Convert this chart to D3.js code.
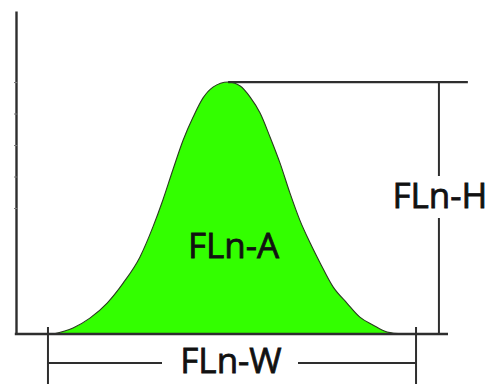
<!DOCTYPE html>
<html>
<head>
<meta charset="utf-8">
<script src="https://cdn.jsdelivr.net/npm/d3@7"></script>
<style>
  html, body { margin: 0; padding: 0; background: #fff; }
  svg { display: block; }
  text { font-family: "Open Sans", sans-serif; fill: #111; stroke: #111; stroke-width: 0.8px; font-weight: 400; }
</style>
</head>
<body>
<svg id="chart" width="497" height="384"></svg>
<script>
// ---- data ----
// position along the separation axis (arbitrary units, 0 = axis origin)
const positions = [8.6, 13.2, 17.1, 21.1, 24.8, 28.7, 31.7, 34.0, 36.3, 38.7, 41.0, 43.3, 45.6, 49.1,
                   51.9, 54.2, 56.5, 58.8, 61.1, 63.4, 65.7, 68.1, 70.4, 73.4, 76.6, 79.6, 82.6, 85.9, 89.6];
// signal intensity (peak = 100)
const intensities = [0, 2.4, 6.3, 12.3, 20.2, 30.6, 42.5, 53.2, 65.1, 77.0, 86.1, 93.7, 98.0, 100,
                     98.4, 94.0, 87.7, 78.2, 67.9, 56.0, 45.2, 36.1, 28.2, 18.7, 12.3, 6.7, 3.6, 0.8, 0];
// minor ticks on the intensity axis
const yTicks = [50, 62.5, 75, 87.5, 100];
// width markers (FLn-W) and height-marker position (FLn-H)
const widthMarkers = [7.4, 92.6];
const heightMarkerX = 97.9;
const peakLineEnd = 104.6;
const labels = { area: "FLn-A", height: "FLn-H", width: "FLn-W" };

// ---- scales ----
const x = d3.scaleLinear().domain([0, 100]).range([16, 448]);
const y = d3.scaleLinear().domain([0, 128.2]).range([334, 11]);

const svg = d3.select("#chart");
const lineColor = "#2e2e2e";

const pts = positions.map((p, i) => ({ x: p, y: intensities[i] }));

// filled peak
const area = d3.area()
  .x(d => x(d.x)).y0(y(0)).y1(d => y(d.y))
  .curve(d3.curveMonotoneX);
svg.append("path").datum(pts)
  .attr("d", area)
  .attr("fill", "#33ff00");
const line = d3.line().x(d => x(d.x)).y(d => y(d.y)).curve(d3.curveMonotoneX);
svg.append("path").datum(pts)
  .attr("d", line)
  .attr("fill", "none")
  .attr("stroke", "#2a3a20")
  .attr("stroke-width", 1.1);

// y axis
const yAxis = d3.axisLeft(y).tickValues(yTicks).tickSize(2).tickSizeOuter(0).tickFormat("");
const gy = svg.append("g").attr("transform", `translate(${x(0)},0)`).call(yAxis);
gy.select(".domain").attr("stroke", lineColor).attr("stroke-width", 2.4);
gy.selectAll(".tick line").attr("stroke", "#777").attr("stroke-width", 1).attr("x2", 2).attr("x1", -2);

// baseline
svg.append("line")
  .attr("x1", x(0) - 1.2).attr("x2", x(100)).attr("y1", y(0)).attr("y2", y(0))
  .attr("stroke", lineColor).attr("stroke-width", 2.4);

// peak horizontal line
const peak = pts.reduce((a, b) => (b.y > a.y ? b : a));
svg.append("line")
  .attr("x1", x(peak.x)).attr("x2", x(peakLineEnd)).attr("y1", y(peak.y)).attr("y2", y(peak.y))
  .attr("stroke", lineColor).attr("stroke-width", 2.2);

// height dimension (vertical with gap for label)
const hx = x(heightMarkerX);
const hLabelY = 208;
svg.append("line").attr("x1", hx).attr("x2", hx).attr("y1", y(peak.y)).attr("y2", 176)
  .attr("stroke", lineColor).attr("stroke-width", 2);
svg.append("line").attr("x1", hx).attr("x2", hx).attr("y1", 218).attr("y2", y(0))
  .attr("stroke", lineColor).attr("stroke-width", 2);
svg.append("text").attr("x", hx + 1).attr("y", hLabelY)
  .attr("text-anchor", "middle").attr("font-size", 35).text(labels.height);

// width dimension
const wl = x(widthMarkers[0]), wr = x(widthMarkers[1]);
const dimY = 363;
[wl, wr].forEach(px => {
  svg.append("line").attr("x1", px).attr("x2", px).attr("y1", 327).attr("y2", 384)
    .attr("stroke", lineColor).attr("stroke-width", 2);
});
const wMid = 231;
svg.append("line").attr("x1", wl).attr("x2", 162).attr("y1", dimY).attr("y2", dimY)
  .attr("stroke", lineColor).attr("stroke-width", 2);
svg.append("line").attr("x1", 298).attr("x2", wr).attr("y1", dimY).attr("y2", dimY)
  .attr("stroke", lineColor).attr("stroke-width", 2);
svg.append("text").attr("x", wMid).attr("y", 373)
  .attr("text-anchor", "middle").attr("font-size", 35).text(labels.width);

// area label
svg.append("text").attr("x", 233.5).attr("y", 258)
  .attr("text-anchor", "middle").attr("font-size", 35).text(labels.area);
</script>
</body>
</html>
